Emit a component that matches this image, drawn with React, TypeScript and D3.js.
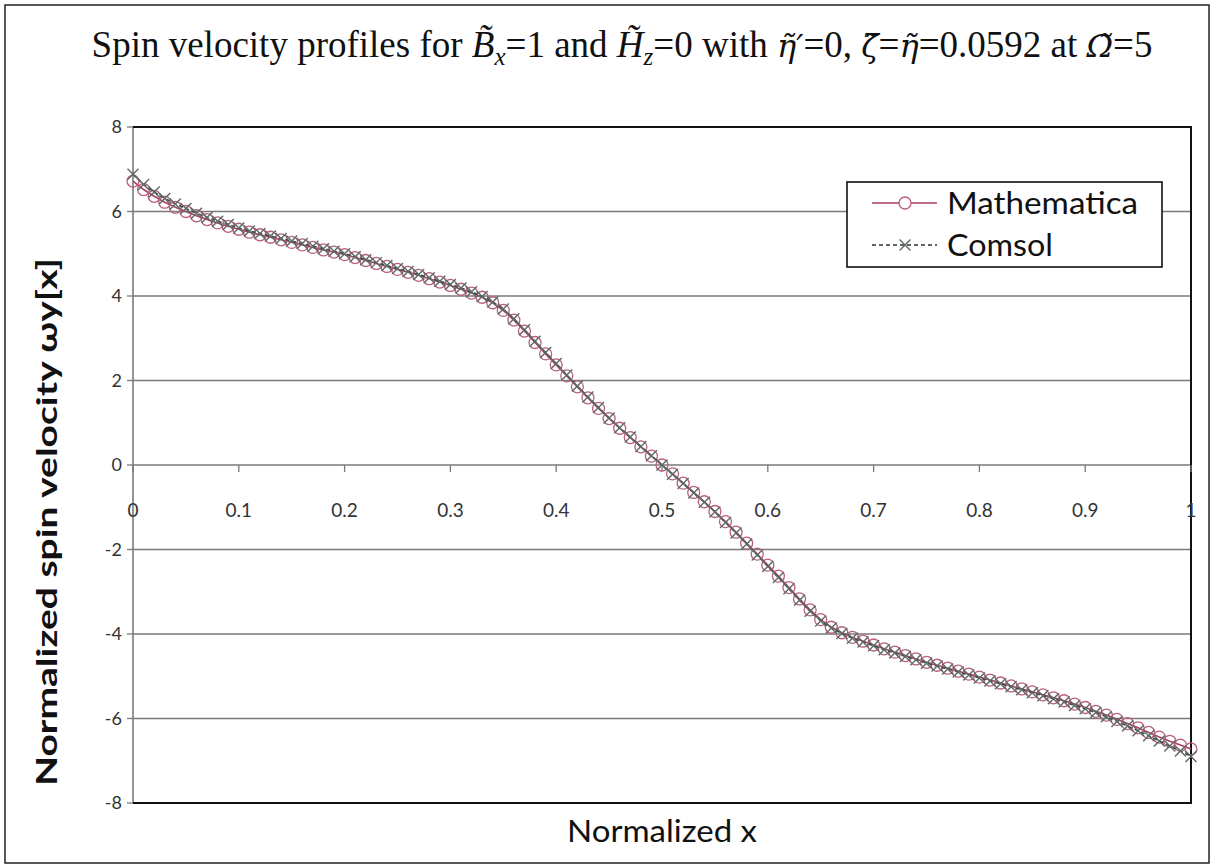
import { scaleLinear, line as d3Line } from "d3"

const xValues = [
  0, 0.01, 0.02, 0.03, 0.04, 0.05, 0.06, 0.07, 0.08, 0.09,
  0.1, 0.11, 0.12, 0.13, 0.14, 0.15, 0.16, 0.17, 0.18, 0.19,
  0.2, 0.21, 0.22, 0.23, 0.24, 0.25, 0.26, 0.27, 0.28, 0.29,
  0.3, 0.31, 0.32, 0.33, 0.34, 0.35, 0.36, 0.37, 0.38, 0.39,
  0.4, 0.41, 0.42, 0.43, 0.44, 0.45, 0.46, 0.47, 0.48, 0.49,
  0.5, 0.51, 0.52, 0.53, 0.54, 0.55, 0.56, 0.57, 0.58, 0.59,
  0.6, 0.61, 0.62, 0.63, 0.64, 0.65, 0.66, 0.67, 0.68, 0.69,
  0.7, 0.71, 0.72, 0.73, 0.74, 0.75, 0.76, 0.77, 0.78, 0.79,
  0.8, 0.81, 0.82, 0.83, 0.84, 0.85, 0.86, 0.87, 0.88, 0.89,
  0.9, 0.91, 0.92, 0.93, 0.94, 0.95, 0.96, 0.97, 0.98, 0.99, 1,
]

// Mathematica solution (circles)
const mathematicaValues = [
  6.72, 6.52, 6.36, 6.22, 6.1, 6.0, 5.9, 5.81, 5.73, 5.65,
  5.58, 5.51, 5.45, 5.39, 5.33, 5.27, 5.21, 5.15, 5.09, 5.04,
  4.98, 4.91, 4.84, 4.77, 4.7, 4.63, 4.56, 4.49, 4.41, 4.33,
  4.25, 4.16, 4.07, 3.97, 3.84, 3.66, 3.43, 3.17, 2.9, 2.63,
  2.37, 2.11, 1.85, 1.59, 1.34, 1.1, 0.87, 0.65, 0.43, 0.21,
  0, -0.21, -0.43, -0.65, -0.87, -1.1, -1.34, -1.59, -1.85, -2.11,
  -2.37, -2.63, -2.9, -3.17, -3.43, -3.66, -3.84, -3.97, -4.08, -4.17,
  -4.26, -4.35, -4.43, -4.51, -4.59, -4.67, -4.74, -4.81, -4.88, -4.95,
  -5.02, -5.09, -5.16, -5.23, -5.3, -5.37, -5.44, -5.51, -5.58, -5.66,
  -5.74, -5.83, -5.92, -6.02, -6.12, -6.22, -6.33, -6.44, -6.54, -6.63, -6.72,
]

// Comsol solution (crosses)
const comsolValues = [
  6.88, 6.64, 6.46, 6.31, 6.18, 6.07, 5.96, 5.86, 5.77, 5.69,
  5.61, 5.54, 5.48, 5.42, 5.36, 5.3, 5.24, 5.18, 5.12, 5.06,
  5.0, 4.93, 4.86, 4.79, 4.72, 4.65, 4.58, 4.51, 4.43, 4.35,
  4.27, 4.19, 4.1, 3.99, 3.86, 3.69, 3.46, 3.2, 2.93, 2.66,
  2.4, 2.13, 1.87, 1.61, 1.36, 1.11, 0.88, 0.66, 0.44, 0.22,
  0, -0.22, -0.44, -0.66, -0.88, -1.11, -1.36, -1.61, -1.87, -2.13,
  -2.4, -2.66, -2.93, -3.2, -3.46, -3.69, -3.86, -3.99, -4.1, -4.19,
  -4.28, -4.37, -4.45, -4.53, -4.61, -4.69, -4.76, -4.83, -4.9, -4.97,
  -5.04, -5.11, -5.18, -5.25, -5.32, -5.39, -5.46, -5.53, -5.61, -5.69,
  -5.77, -5.86, -5.96, -6.07, -6.18, -6.29, -6.41, -6.53, -6.65, -6.77, -6.9,
]

const xTicks = [0, 0.1, 0.2, 0.3, 0.4, 0.5, 0.6, 0.7, 0.8, 0.9, 1]
const xTickLabels = ["0", "0.1", "0.2", "0.3", "0.4", "0.5", "0.6", "0.7", "0.8", "0.9", "1"]
const yTicks = [-8, -6, -4, -2, 0, 2, 4, 6, 8]

const seriesNames = ["Mathematica", "Comsol"]

const W = 1213
const H = 866
const plot = { left: 133, right: 1191, top: 127, bottom: 803 }
const sansFont = "Lato, 'Open Sans', sans-serif"
const serifFont = "'Liberation Serif', 'DejaVu Serif', serif"
const greekFont = "'DejaVu Serif', serif"

const mathColor = "#a8405f"
const mathMarker = "#b8607c"
const comsolColor = "#2e5848"
const comsolMarker = "#5d6964"

function XMark({ x, y, s, color }: { x: number; y: number; s: number; color: string }) {
  return (
    <path d={`M${x - s},${y - s}L${x + s},${y + s}M${x - s},${y + s}L${x + s},${y - s}`} stroke={color} strokeWidth={1.4} fill="none" />
  )
}

export default function App() {
  const xScale = scaleLinear().domain([0, 1]).range([plot.left, plot.right])
  const yScale = scaleLinear().domain([-8, 8]).range([plot.bottom, plot.top])

  const mathPts = xValues.map((x, i) => [x, mathematicaValues[i]] as [number, number])
  const comsolPts = xValues.map((x, i) => [x, comsolValues[i]] as [number, number])

  const lineGen = d3Line<[number, number]>()
    .x((d) => xScale(d[0]))
    .y((d) => yScale(d[1]))

  const zeroY = yScale(0)
  const legend = { x: 847, y: 182, w: 315, h: 85 }

  return (
    <div>
      <style>{`body{margin:0}`}</style>
      <svg width={W} height={H} viewBox={`0 0 ${W} ${H}`} style={{ display: "block", background: "#fff" }}>
        <rect x={5} y={5} width={W - 9} height={H - 8} fill="#fff" stroke="#222" strokeWidth={1.5} />

        {/* title */}
        <text x={622} y={57} textAnchor="middle" fontFamily={serifFont} fontSize={37} fill="#111">
          <tspan>Spin velocity profiles for </tspan>
          <tspan fontStyle="italic">B&#x0303;</tspan>
          <tspan fontStyle="italic" fontSize={25} dy={8}>x</tspan>
          <tspan dy={-8}>=1 and </tspan>
          <tspan fontStyle="italic">H&#x0303;</tspan>
          <tspan fontStyle="italic" fontSize={25} dy={8}>z</tspan>
          <tspan dy={-8}>=0 with </tspan>
          <tspan fontStyle="italic" fontFamily={greekFont} fontSize={32}>&#x03B7;&#x0303;&#x2032;</tspan>
          <tspan>=0, </tspan>
          <tspan fontStyle="italic" fontFamily={greekFont} fontSize={32}>&#x03B6;&#x0303;</tspan>
          <tspan>=</tspan>
          <tspan fontStyle="italic" fontFamily={greekFont} fontSize={32}>&#x03B7;&#x0303;</tspan>
          <tspan>=0.0592 at </tspan>
          <tspan fontStyle="italic" fontFamily={greekFont} fontSize={32}>&#x03A9;&#x0303;</tspan>
          <tspan>=5</tspan>
        </text>

        {/* grid */}
        {yTicks.map((t) => (
          <g key={t}>
            <line x1={plot.left} x2={plot.right} y1={yScale(t)} y2={yScale(t)} stroke="#7a7a7a" strokeWidth={1.3} />
            <line x1={plot.left - 6} x2={plot.left} y1={yScale(t)} y2={yScale(t)} stroke="#7a7a7a" strokeWidth={1.3} />
            <text x={122} y={yScale(t)} dy="0.35em" textAnchor="end" fontFamily={sansFont} fontSize={18} fill="#333">
              {t}
            </text>
          </g>
        ))}

        {/* frame */}
        <line x1={plot.left} x2={plot.left} y1={plot.top} y2={plot.bottom} stroke="#7a7a7a" strokeWidth={1.6} />
        <path d={`M${plot.left},${plot.top}H${plot.right}V${plot.bottom}H${plot.left}`} fill="none" stroke="#111" strokeWidth={2} />

        {/* x axis at zero */}
        {xTicks.map((t, i) => (
          <g key={t}>
            <line x1={xScale(t)} x2={xScale(t)} y1={zeroY} y2={zeroY + 7} stroke="#7a7a7a" strokeWidth={1.3} />
            <text x={xScale(t)} y={zeroY + 52} textAnchor="middle" fontFamily={sansFont} fontSize={19} fill="#333">
              {xTickLabels[i]}
            </text>
          </g>
        ))}

        {/* Mathematica */}
        <path d={lineGen(mathPts) ?? ""} fill="none" stroke={mathColor} strokeWidth={1.6} />
        {mathPts.map((d, i) => (
          <circle key={`m${i}`} cx={xScale(d[0])} cy={yScale(d[1])} r={6} fill="none" stroke={mathMarker} strokeWidth={1.3} />
        ))}

        {/* Comsol */}
        <path d={lineGen(comsolPts) ?? ""} fill="none" stroke={comsolColor} strokeWidth={1.6} strokeDasharray="4 3" />
        {comsolPts.map((d, i) => (
          <XMark key={`c${i}`} x={xScale(d[0])} y={yScale(d[1])} s={5.5} color={comsolMarker} />
        ))}

        {/* axis titles */}
        <text
          x={567}
          y={842}
          textLength={190}
          lengthAdjust="spacingAndGlyphs"
          fontFamily={sansFont}
          fontSize={31}
          fill="#111"
        >
          Normalized x
        </text>
        <text
          transform={`translate(57,786) rotate(-90)`}
          textLength={528}
          lengthAdjust="spacingAndGlyphs"
          fontFamily={sansFont}
          fontSize={29}
          fontWeight="bold"
          fill="#111"
        >
          Normalized spin velocity ωy[x]
        </text>

        {/* legend */}
        <rect x={legend.x} y={legend.y} width={legend.w} height={legend.h} fill="#fff" stroke="#111" strokeWidth={1.6} />
        <line x1={872} x2={937} y1={203} y2={203} stroke={mathColor} strokeWidth={1.6} />
        <circle cx={905} cy={203} r={6} fill="#fff" stroke={mathMarker} strokeWidth={1.3} />
        <text x={947} y={214} textLength={191} lengthAdjust="spacingAndGlyphs" fontFamily={sansFont} fontSize={31} fill="#111">
          {seriesNames[0]}
        </text>
        <line x1={872} x2={937} y1={245} y2={245} stroke="#333" strokeWidth={1.4} strokeDasharray="4 3" />
        <XMark x={905} y={245} s={5.5} color={comsolMarker} />
        <text x={947} y={256} textLength={106} lengthAdjust="spacingAndGlyphs" fontFamily={sansFont} fontSize={31} fill="#111">
          {seriesNames[1]}
        </text>
      </svg>
    </div>
  )
}
